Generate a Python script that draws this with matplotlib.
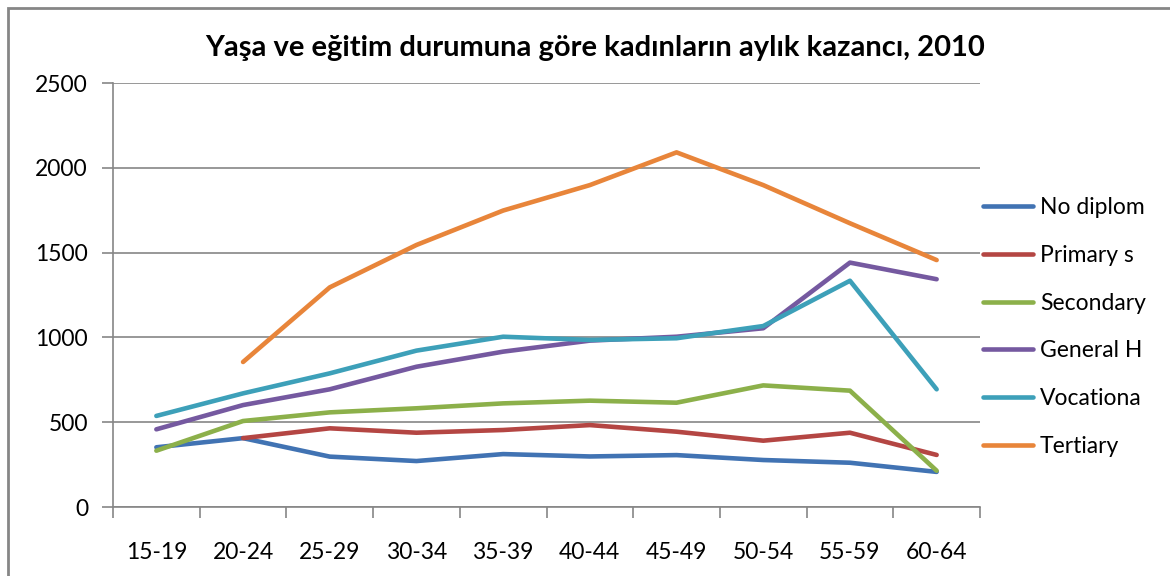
import numpy as np
import matplotlib
matplotlib.use("Agg")
import matplotlib.pyplot as plt
from matplotlib.patches import Rectangle

plt.rcParams['font.family'] = ['Lato', 'DejaVu Sans']

ages = ['15-19', '20-24', '25-29', '30-34', '35-39', '40-44', '45-49', '50-54', '55-59', '60-64']

no_diploma = [352, 406, 297, 271, 312, 298, 306, 277, 261, 207]
primary = [np.nan, 406, 464, 438, 454, 483, 444, 391, 438, 307]
secondary = [332, 507, 558, 582, 611, 627, 615, 717, 686, 214]
general_h = [458, 601, 694, 827, 916, 981, 1004, 1054, 1441, 1343]
vocational = [537, 670, 788, 922, 1004, 985, 995, 1067, 1334, 694]
tertiary = [np.nan, 855, 1295, 1545, 1748, 1898, 2091, 1898, 1673, 1456]

labels = ['No diplom', 'Primary s', 'Secondary', 'General H', 'Vocationa', 'Tertiary']
colors = ['#4173B3', '#B44643', '#8CB04A', '#7559A0', '#3DA0B9', '#E8853A']

W, H = 1170, 576
fig = plt.figure(figsize=(W / 100, H / 100), dpi=100)
ax = fig.add_axes([113 / W, (H - 507) / H, (980 - 113) / W, (507 - 83) / H])

x = np.arange(len(ages))
series = [no_diploma, primary, secondary, general_h, vocational, tertiary]
for vals, lab, col in zip(series, labels, colors):
    ax.plot(x, vals, color=col, lw=3.3, label=lab, solid_capstyle='round', solid_joinstyle='round')

ax.set_xlim(-0.5, len(ages) - 0.5)
ax.set_ylim(0, 2500)
ax.set_yticks(np.arange(0, 2501, 500))
ax.set_xticks(x)
ax.set_xticklabels(ages)
ax.set_xticks(np.arange(-0.5, len(ages), 1), minor=True)
ax.tick_params(axis='x', which='major', length=0, pad=25, labelsize=16.5)
ax.tick_params(axis='x', which='minor', length=8, color='#868686', width=1.2)
ax.tick_params(axis='y', length=8, color='#868686', width=1.2, labelsize=16.5, pad=10)
ax.grid(axis='y', color='#868686', lw=1.2)
ax.set_axisbelow(True)
for s in ['top', 'right']:
    ax.spines[s].set_visible(False)
for s in ['left', 'bottom']:
    ax.spines[s].set_color('#868686')
    ax.spines[s].set_linewidth(1.2)

fig.text(595 / W, 1 - 48 / H, 'Yaşa ve eğitim durumuna göre kadınların aylık kazancı, 2010',
         ha='center', va='center', fontsize=21, fontweight='bold')

fig.legend(loc='center left', bbox_to_anchor=(962 / W, 1 - 327 / H), frameon=False,
           fontsize=16.5, handlelength=2.2, handletextpad=0.3, labelspacing=1.17)

fig.patches.append(Rectangle((8 / W, -0.1), 1.2, 1 - 8 / H + 0.1, transform=fig.transFigure,
                             fill=False, edgecolor='#868686', lw=2))

fig.savefig('out.png', dpi=100)
